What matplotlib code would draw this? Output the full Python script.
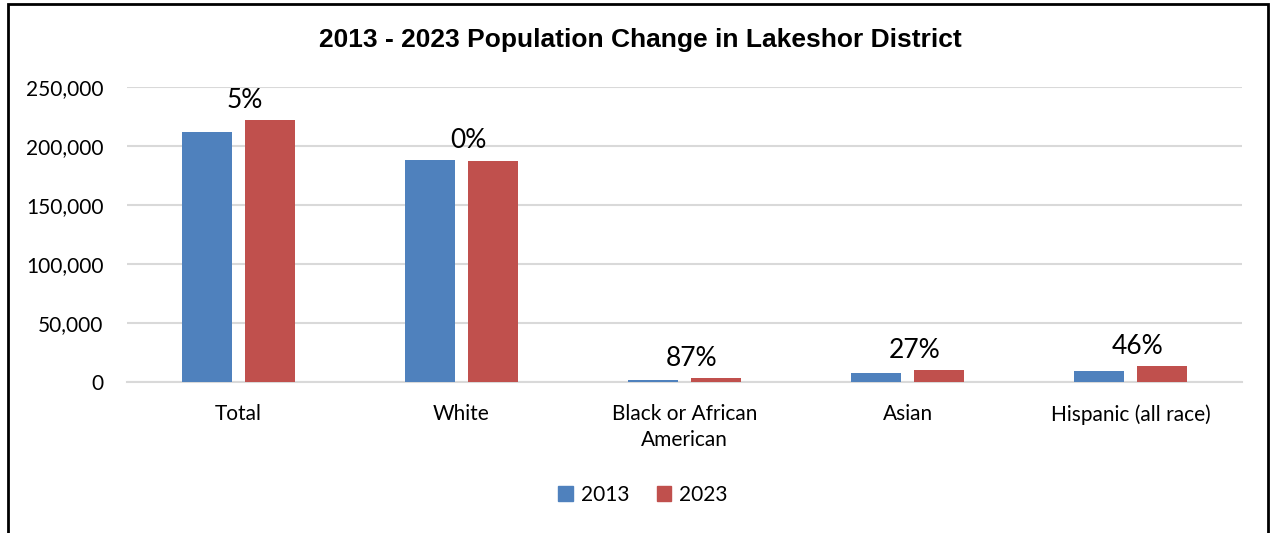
import numpy as np
import matplotlib.pyplot as plt
from matplotlib.patches import Rectangle, Patch

# population by group, district totals
categories = ['Total', 'White', 'Black or African\nAmerican', 'Asian', 'Hispanic (all race)']
pop_2013 = [211500, 187900, 2000, 7900, 9400]
pop_2023 = [221800, 187200, 3740, 10030, 13720]
yticks = [0, 50000, 100000, 150000, 200000, 250000]

blue = '#4F81BD'
red = '#C0504D'
body_font = 'Lato'

fig = plt.figure(figsize=(12.71, 5.33), dpi=100)
ax = fig.add_axes([127/1271, 1-382/533, (1242-127)/1271, (382-87)/533])

x = np.arange(len(categories))
w = 0.224
off = 0.143
ax.bar(x - off, pop_2013, w, color=blue, label='2013', zorder=3)
ax.bar(x + off, pop_2023, w, color=red, label='2023', zorder=3)

# percent change labels above each group
for i in range(len(categories)):
    pct = round((pop_2023[i]/pop_2013[i] - 1)*100)
    top = max(pop_2013[i], pop_2023[i])
    ax.text(x[i] + 0.03, top + 16500, '%d%%' % pct, ha='center', va='center',
            fontsize=19, family=body_font, color='black')

ax.set_xlim(-0.5, len(categories) - 0.5)
ax.set_ylim(0, 250000)
ax.set_yticks(yticks)
ax.set_yticklabels(['{:,}'.format(v) for v in yticks], family=body_font, fontsize=15)
ax.set_xticks(x)
ax.set_xticklabels(categories, family=body_font, fontsize=15, linespacing=1.35)
ax.tick_params(axis='y', length=0, pad=17)
ax.tick_params(axis='x', length=0, pad=16)
ax.grid(axis='y', color='#d9d9d9', linewidth=1.5, zorder=0)
for s in ['top', 'right', 'left']:
    ax.spines[s].set_visible(False)
ax.spines['bottom'].set_color('#d9d9d9')
ax.spines['bottom'].set_linewidth(1.5)

fig.text(640/1271, 1-40/533, '2013 - 2023 Population Change in Lakeshor District',
         ha='center', va='center', fontsize=19, fontweight='bold', family='Liberation Sans')

handles = [Patch(color=blue, label='2013'), Patch(color=red, label='2023')]
fig.legend(handles=handles, loc='center', bbox_to_anchor=(643/1271, 1-495/533), ncol=2,
           frameon=False, prop={'family': body_font, 'size': 15},
           handlelength=0.7, handleheight=0.7, handletextpad=0.4, columnspacing=1.3)

# outer frame
fig.patches.append(Rectangle((8/1271, -0.1), 1260/1271, 1.1 - 4/533, transform=fig.transFigure,
                             fill=False, edgecolor='black', linewidth=2))

fig.savefig('out.png', dpi=100)
